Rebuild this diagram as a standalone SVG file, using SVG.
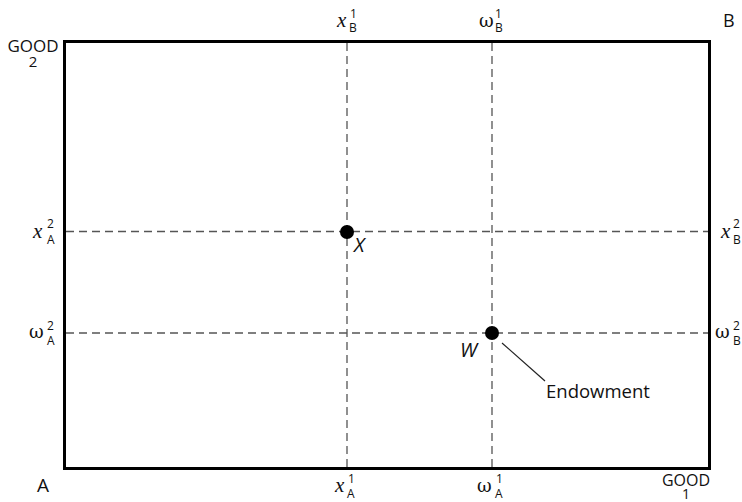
<svg xmlns="http://www.w3.org/2000/svg" width="742" height="502" viewBox="0 0 742 502">
<style>
.t{font-family:"Open Sans","Liberation Sans",sans-serif;fill:#111}
.m{font-family:"Liberation Serif",serif;font-style:italic;font-size:21px;fill:#111}
.w{font-family:"DejaVu Serif","Liberation Serif",serif;font-size:18px;fill:#111}
.s{font-family:"Open Sans","Liberation Sans",sans-serif;font-size:12px;fill:#111}
.dash{stroke:#555;stroke-width:1.3;stroke-dasharray:8 5;fill:none}
</style>
<rect width="742" height="502" fill="#fff"/>
<g id="box"><rect x="64.5" y="41.5" width="645" height="427" fill="none" stroke="#000" stroke-width="3"/></g>
<g id="connectors">
<line class="dash" x1="347" y1="43" x2="347" y2="467"/>
<line class="dash" x1="492" y1="43" x2="492" y2="467"/>
<line class="dash" x1="66" y1="231.5" x2="708" y2="231.5"/>
<line class="dash" x1="66" y1="333" x2="708" y2="333"/>
<line x1="502" y1="343" x2="545" y2="381" stroke="#222" stroke-width="1.2"/>
</g>
<g id="point-X"><circle cx="347" cy="232" r="7" fill="#000"/><text class="t" x="354" y="252" font-size="20" font-style="italic">X</text></g>
<g id="point-W"><circle cx="492" cy="333" r="7" fill="#000"/><text class="t" x="460" y="357" font-size="20" font-style="italic">W</text></g>
<g id="endowment"><text class="t" x="546" y="398" font-size="18.5">Endowment</text></g>
<g id="corner-labels">
<text class="t" x="33" y="52" font-size="17" text-anchor="middle">GOOD</text>
<text class="t" x="33" y="67" font-size="15" text-anchor="middle">2</text>
<text class="t" x="686" y="486" font-size="16" text-anchor="middle">GOOD</text>
<text class="t" x="686" y="499" font-size="14" text-anchor="middle">1</text>
<text class="t" x="723" y="27" font-size="18">B</text>
<text class="t" x="43" y="492" font-size="19" text-anchor="middle">A</text>
</g>
<g id="top-labels">
<text class="m" x="337" y="27">x</text><text class="s" x="350" y="18">1</text><text class="s" x="349" y="32">B</text>
<text class="w" x="479" y="27">ω</text><text class="s" x="495" y="18">1</text><text class="s" x="495" y="32">B</text>
</g>
<g id="left-labels">
<text class="m" x="33" y="238">x</text><text class="s" x="47" y="228">2</text><text class="s" x="47" y="244">A</text>
<text class="w" x="29" y="338">ω</text><text class="s" x="47" y="330">2</text><text class="s" x="47" y="345">A</text>
</g>
<g id="right-labels">
<text class="m" x="721" y="238">x</text><text class="s" x="733" y="228">2</text><text class="s" x="733" y="244">B</text>
<text class="w" x="715" y="338">ω</text><text class="s" x="733" y="330">2</text><text class="s" x="733" y="345">B</text>
</g>
<g id="bottom-labels">
<text class="m" x="335" y="492">x</text><text class="s" x="348" y="483">1</text><text class="s" x="347" y="498">A</text>
<text class="w" x="477" y="492">ω</text><text class="s" x="496" y="483">1</text><text class="s" x="495" y="498">A</text>
</g>
</svg>
